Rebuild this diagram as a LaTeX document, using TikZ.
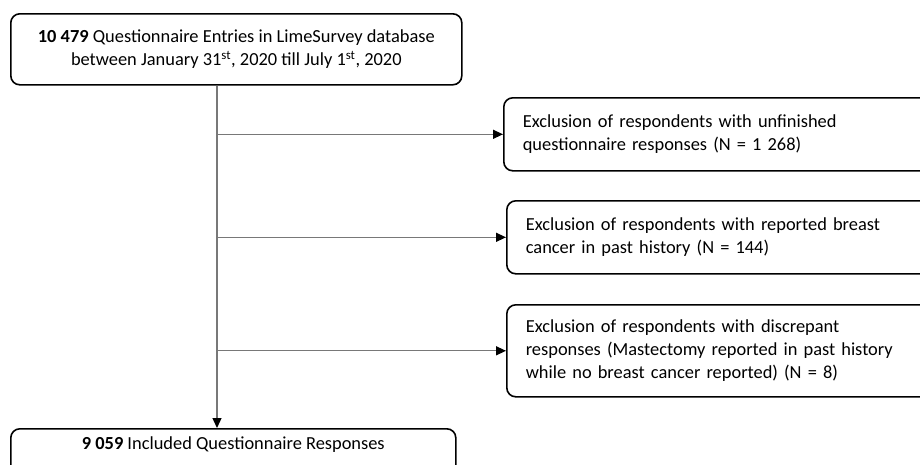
\documentclass[tikz,border=0pt]{standalone}
\usepackage{fontspec}
\setmainfont{Carlito}
\usetikzlibrary{arrows.meta}
\begin{document}
\begin{tikzpicture}[x=1pt,y=-1pt,
  box/.style={draw=black,line width=1.6pt,rounded corners=9pt,inner sep=0pt,
    font=\fontsize{18.4}{23}\selectfont},
  exbox/.style={box,anchor=north west,align=left,text width=402pt,inner xsep=19pt,minimum width=440pt},
  conn/.style={draw={rgb,255:red,120;green,120;blue,120},line width=1.3pt},
  arr/.style={conn,-{Triangle[length=10pt,width=9pt,color=black,fill=black]}}]
\clip (0,0) rectangle (920,464);
\fill[white] (0,0) rectangle (920,464);
\node[box,anchor=north west,minimum width=451pt,minimum height=71pt,align=center] (top) at (10,13)
  {\textbf{10 479} Questionnaire Entries in LimeSurvey database\\between January 31\textsuperscript{st}, 2020 till July 1\textsuperscript{st}, 2020};
\node[box,anchor=north west,minimum width=445pt,minimum height=70pt,align=center,text depth=42pt] (bot) at (10,428)
  {\textbf{9 059} Included Questionnaire Responses};
\node[exbox,minimum height=73pt] (e1) at (503,97)
  {Exclusion of respondents with unfinished\\questionnaire responses (N = 1 268)};
\node[exbox,minimum height=73pt] (e2) at (506,200)
  {Exclusion of respondents with reported breast\\cancer in past history (N = 144)};
\node[exbox,minimum height=92pt] (e3) at (506,304)
  {Exclusion of respondents with discrepant\\responses (Mastectomy reported in past history\\while no breast cancer reported) (N = 8)};
\coordinate (tr) at (217,0);
\draw[arr] (top.south -| tr) -- (bot.north -| tr);
\draw[arr] (e1.west -| tr) -- (e1.west);
\draw[arr] (e2.west -| tr) -- (e2.west);
\draw[arr] (e3.west -| tr) -- (e3.west);
\end{tikzpicture}
\end{document}
